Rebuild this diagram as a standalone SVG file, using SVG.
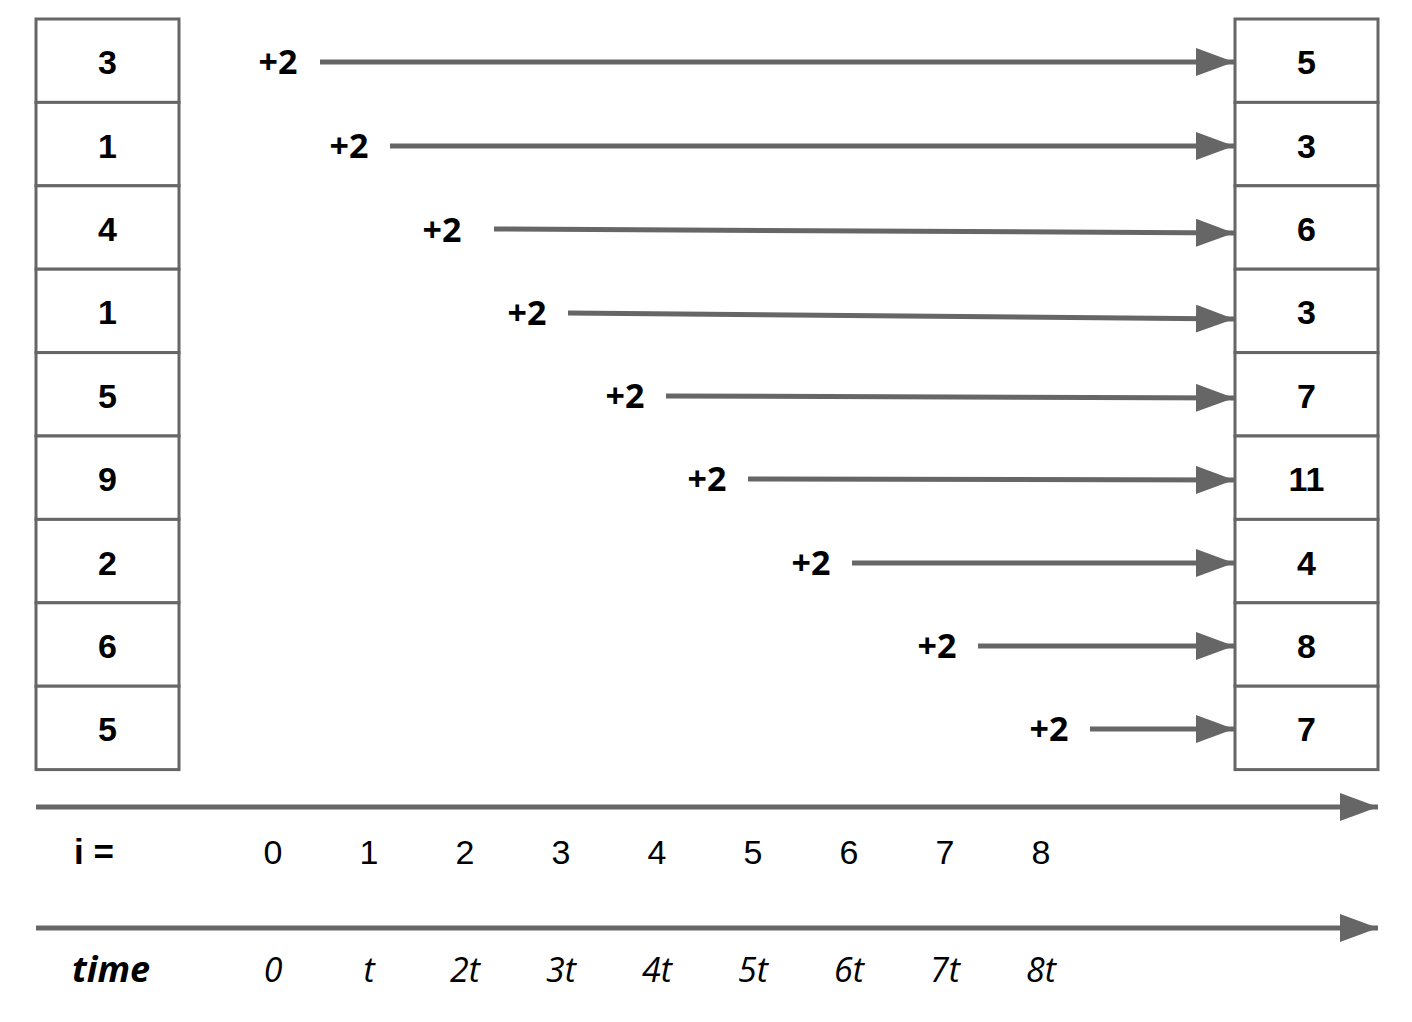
<svg xmlns="http://www.w3.org/2000/svg" width="1412" height="1022" viewBox="0 0 1412 1022">
<defs>
<marker id="ah" markerUnits="userSpaceOnUse" markerWidth="38" markerHeight="28" refX="38" refY="14" orient="auto"><path d="M0,0 L38,14 L0,28 Z" fill="#666666"/></marker>
</defs>
<style>
.cell{fill:#ffffff;stroke:#666666;stroke-width:3}
.num{font-family:"Liberation Sans",Arial,sans-serif;font-weight:bold;font-size:34px;text-anchor:middle;fill:#000}
.plus{font-family:"Open Sans",sans-serif;font-weight:bold;font-size:34px;text-anchor:middle;fill:#000}
.con{stroke:#666666;stroke-width:5;fill:none;marker-end:url(#ah)}
.idx{font-family:"Liberation Sans",Arial,sans-serif;font-size:34px;text-anchor:middle;fill:#000}
.lbl{font-family:"Liberation Sans",Arial,sans-serif;font-weight:bold;font-size:35px;fill:#000}
.tl{font-family:"Open Sans",sans-serif;font-style:italic;font-size:34px;text-anchor:middle;fill:#000}
.tlb{font-family:"Open Sans",sans-serif;font-style:italic;font-weight:bold;font-size:36px;fill:#000}
</style>
<rect width="1412" height="1022" fill="#ffffff"/>
<g id="input">
<rect class="cell" x="36" y="19" width="143" height="83.4"/>
<rect class="cell" x="36" y="102.4" width="143" height="83.4"/>
<rect class="cell" x="36" y="185.8" width="143" height="83.4"/>
<rect class="cell" x="36" y="269.2" width="143" height="83.4"/>
<rect class="cell" x="36" y="352.6" width="143" height="83.4"/>
<rect class="cell" x="36" y="436" width="143" height="83.4"/>
<rect class="cell" x="36" y="519.4" width="143" height="83.4"/>
<rect class="cell" x="36" y="602.8" width="143" height="83.4"/>
<rect class="cell" x="36" y="686.2" width="143" height="83.4"/>
<text class="num" x="107.5" y="74">3</text>
<text class="num" x="107.5" y="158">1</text>
<text class="num" x="107.5" y="241">4</text>
<text class="num" x="107.5" y="324">1</text>
<text class="num" x="107.5" y="408">5</text>
<text class="num" x="107.5" y="491">9</text>
<text class="num" x="107.5" y="575">2</text>
<text class="num" x="107.5" y="658">6</text>
<text class="num" x="107.5" y="741">5</text>
</g>
<g id="output">
<rect class="cell" x="1235" y="19" width="143" height="83.4"/>
<rect class="cell" x="1235" y="102.4" width="143" height="83.4"/>
<rect class="cell" x="1235" y="185.8" width="143" height="83.4"/>
<rect class="cell" x="1235" y="269.2" width="143" height="83.4"/>
<rect class="cell" x="1235" y="352.6" width="143" height="83.4"/>
<rect class="cell" x="1235" y="436" width="143" height="83.4"/>
<rect class="cell" x="1235" y="519.4" width="143" height="83.4"/>
<rect class="cell" x="1235" y="602.8" width="143" height="83.4"/>
<rect class="cell" x="1235" y="686.2" width="143" height="83.4"/>
<text class="num" x="1306.5" y="74">5</text>
<text class="num" x="1306.5" y="158">3</text>
<text class="num" x="1306.5" y="241">6</text>
<text class="num" x="1306.5" y="324">3</text>
<text class="num" x="1306.5" y="408">7</text>
<text class="num" x="1306.5" y="491">11</text>
<text class="num" x="1306.5" y="575">4</text>
<text class="num" x="1306.5" y="658">8</text>
<text class="num" x="1306.5" y="741">7</text>
</g>
<g id="ops">
<text class="plus" x="278" y="74">+2</text>
<text class="plus" x="349" y="158">+2</text>
<text class="plus" x="442" y="242">+2</text>
<text class="plus" x="527" y="325">+2</text>
<text class="plus" x="625" y="408">+2</text>
<text class="plus" x="707" y="491">+2</text>
<text class="plus" x="811" y="575">+2</text>
<text class="plus" x="937" y="658">+2</text>
<text class="plus" x="1049" y="741">+2</text>
</g>
<g id="connectors">
<line class="con" x1="320" y1="62" x2="1234" y2="62"/>
<line class="con" x1="390" y1="146" x2="1234" y2="146"/>
<line class="con" x1="494" y1="229" x2="1234" y2="233"/>
<line class="con" x1="568" y1="313" x2="1234" y2="319"/>
<line class="con" x1="666" y1="396" x2="1234" y2="398"/>
<line class="con" x1="748" y1="479" x2="1234" y2="480"/>
<line class="con" x1="852" y1="563" x2="1234" y2="563"/>
<line class="con" x1="978" y1="646" x2="1234" y2="646"/>
<line class="con" x1="1090" y1="729" x2="1234" y2="729"/>
<line class="con" x1="36" y1="807" x2="1378" y2="807"/>
<line class="con" x1="36" y1="928" x2="1378" y2="928"/>
</g>
<g id="index-row">
<text class="lbl" x="74" y="864">i =</text>
<text class="idx" x="273" y="864">0</text>
<text class="idx" x="369" y="864">1</text>
<text class="idx" x="465" y="864">2</text>
<text class="idx" x="561" y="864">3</text>
<text class="idx" x="657" y="864">4</text>
<text class="idx" x="753" y="864">5</text>
<text class="idx" x="849" y="864">6</text>
<text class="idx" x="945" y="864">7</text>
<text class="idx" x="1041" y="864">8</text>
</g>
<g id="time-row">
<text class="tlb" x="72" y="982">time</text>
<text class="tl" x="273" y="982">0</text>
<text class="tl" x="369" y="982">t</text>
<text class="tl" x="465" y="982">2t</text>
<text class="tl" x="561" y="982">3t</text>
<text class="tl" x="657" y="982">4t</text>
<text class="tl" x="753" y="982">5t</text>
<text class="tl" x="849" y="982">6t</text>
<text class="tl" x="945" y="982">7t</text>
<text class="tl" x="1041" y="982">8t</text>
</g>
</svg>
